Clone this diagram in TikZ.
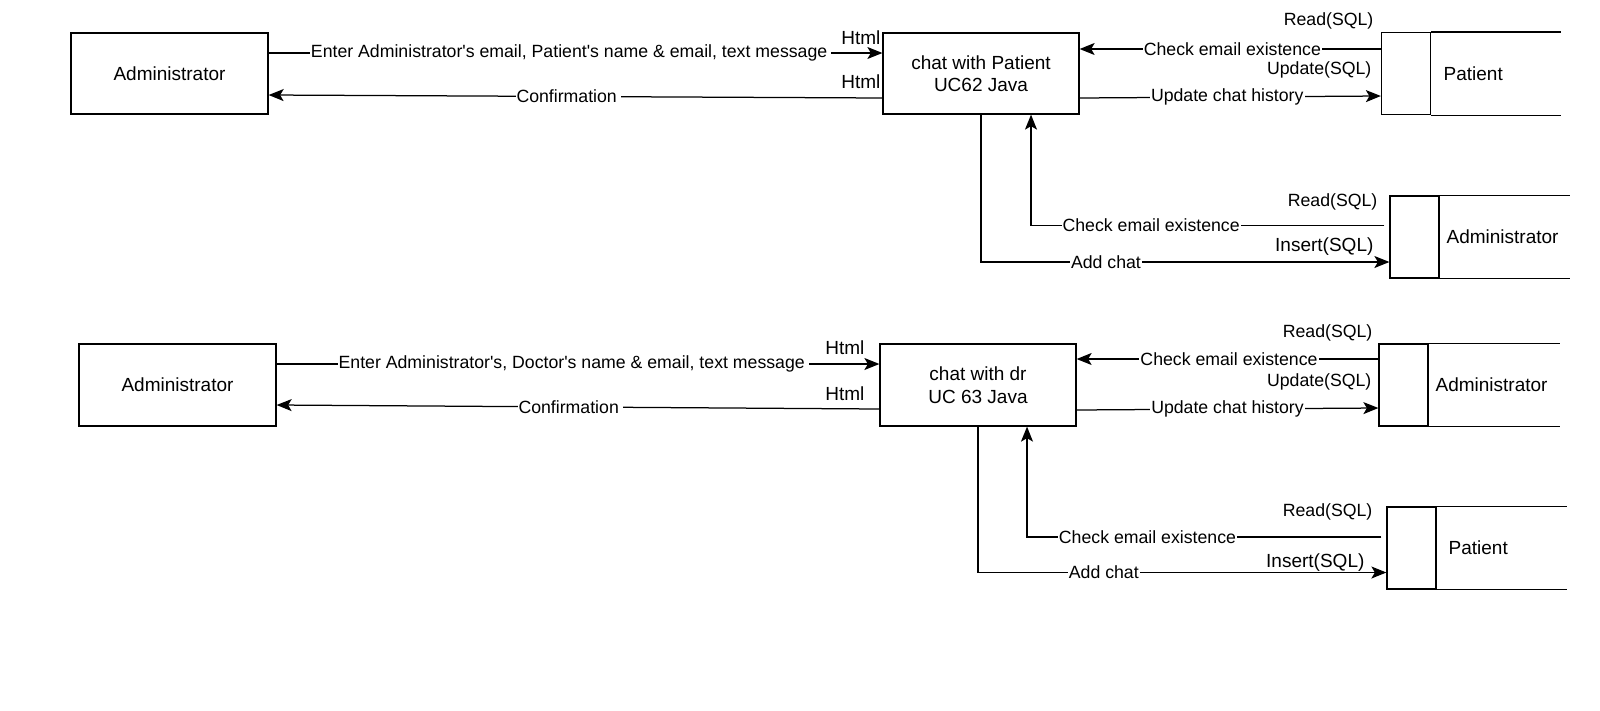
\documentclass[tikz,border=0pt]{standalone}
\usepackage{fontspec}
\setmainfont{Liberation Sans}
\usetikzlibrary{arrows.meta}
\begin{document}
\begin{tikzpicture}[x=1pt,y=-1pt,line width=1.25pt,
  >={Stealth[length=15pt,width=12pt,inset=3.5pt]},
  extbox/.style={draw, rectangle, minimum width=197pt, minimum height=81pt, inner sep=0pt,
    font=\fontsize{19}{22.5}\selectfont, align=center},
  storebox/.style={draw, rectangle, minimum width=49pt, minimum height=82pt, inner sep=0pt},
  storetext/.style={anchor=west, inner sep=0pt, font=\fontsize{19}{22.5}\selectfont},
  flowlbl/.style={fill=white, inner sep=1pt, font=\fontsize{17.7}{20}\selectfont},
  tagbig/.style={anchor=east, inner sep=0pt, font=\fontsize{19}{22}\selectfont},
  tagsmall/.style={anchor=east, inner sep=0pt, font=\fontsize{17.7}{20}\selectfont},
  flow/.style={->}
]
\useasboundingbox (0,0) rectangle (1600,710);

% ---------------- top diagram ----------------
\node[extbox] (A1) at (169.5,73.5) {Administrator};
\node[extbox, minimum width=196pt] (P1) at (981,73.5) {chat with Patient\\UC62 Java};

\node[storebox] (D1) at (1406,73.5) {};
\draw (D1.north east) -- ++(130,0);
\draw (D1.south east) -- ++(130,0);
\node[storetext] (D1t) at (1443,73.5) {Patient};

\node[storebox] (D2) at (1414.5,237) {};
\draw (D2.north east) -- ++(130,0);
\draw (D2.south east) -- ++(130,0);
\node[storetext] (D2t) at (1446,237) {Administrator};

\draw[flow] ([yshift=20.5pt]A1.east) -- node[flowlbl, pos=0.492] {Enter Administrator\textquotesingle s email, Patient\textquotesingle s name \& email, text message\,} ([yshift=20.5pt]P1.west);
\draw[flow] ([yshift=-24.5pt]P1.west) -- node[flowlbl, pos=0.512] {Confirmation\,} ([yshift=-21.5pt]A1.east);
\node[tagbig] (h1) at (881,38) {Html};
\node[tagbig] (h2) at (881,82) {Html};

\draw[flow] ([yshift=24.5pt]D1.west) -- node[flowlbl, pos=0.493] {Check email existence} ([yshift=24.5pt]P1.east);
\draw[flow] ([yshift=-24.5pt]P1.east) -- node[flowlbl, pos=0.49] {Update chat history} ([yshift=-22.5pt]D1.west);
\node[tagsmall] (r1) at (1374,21) {Read(SQL)};
\node[tagsmall] (u1) at (1372,70) {Update(SQL)};

\draw[flow] (P1.south) |- node[flowlbl, pos=0.653] {Add chat} ([yshift=-25pt]D2.west);
\draw[flow] ([xshift=-5pt,yshift=11.5pt]D2.west) -| node[flowlbl, pos=0.33] {Check email existence} ([xshift=50pt]P1.south);
\node[tagsmall] (r2) at (1378,202) {Read(SQL)};
\node[tagbig] (i1) at (1374,247) {Insert(SQL)};

% ---------------- bottom diagram ----------------
\node[extbox, minimum height=82pt] (A2) at (177.5,385) {Administrator};
\node[extbox, minimum width=196pt, minimum height=82pt] (P2) at (978,385) {chat with dr\\UC 63 Java};

\node[storebox] (D3) at (1403.5,385) {};
\draw (D3.north east) -- ++(131,0);
\draw (D3.south east) -- ++(131,0);
\node[storetext] (D3t) at (1435,385) {Administrator};

\node[storebox] (D4) at (1411.5,548) {};
\draw (D4.north east) -- ++(130,0);
\draw (D4.south east) -- ++(130,0);
\node[storetext] (D4t) at (1448,548) {Patient};

\draw[flow] ([yshift=21pt]A2.east) -- node[flowlbl, pos=0.492] {Enter Administrator\textquotesingle s, Doctor\textquotesingle s name \& email, text message\,} ([yshift=21pt]P2.west);
\draw[flow] ([yshift=-24pt]P2.west) -- node[flowlbl, pos=0.513] {Confirmation\,} ([yshift=-20pt]A2.east);
\node[tagbig] (h3) at (865,348) {Html};
\node[tagbig] (h4) at (865,394) {Html};

\draw[flow] ([yshift=26pt]D3.west) -- node[flowlbl, pos=0.495] {Check email existence} ([yshift=26pt]P2.east);
\draw[flow] ([yshift=-25pt]P2.east) -- node[flowlbl, pos=0.5] {Update chat history} ([yshift=-23pt]D3.west);
\node[tagsmall] (r3) at (1373,333) {Read(SQL)};
\node[tagsmall] (u3) at (1372,382) {Update(SQL)};

\draw[flow] (P2.south) |- node[flowlbl, pos=0.654] {Add chat} ([yshift=-24.5pt]D4.west);
\draw[flow] ([xshift=-5pt,yshift=11pt]D4.west) -| node[flowlbl, pos=0.33] {Check email existence} ([xshift=49pt]P2.south);
\node[tagsmall] (r4) at (1373,512) {Read(SQL)};
\node[tagbig] (i3) at (1365,563) {Insert(SQL)};
\end{tikzpicture}
\end{document}
